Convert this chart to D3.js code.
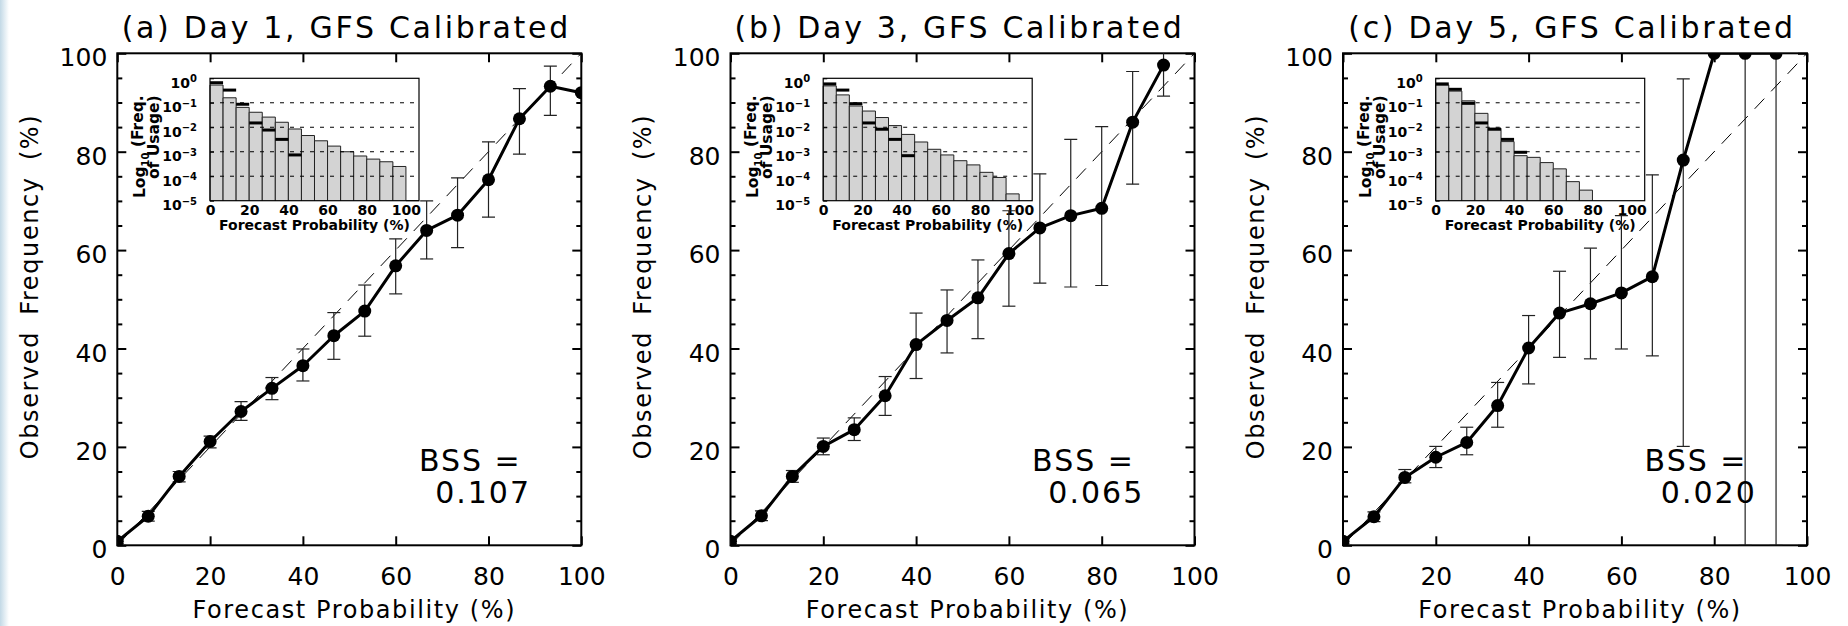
<!DOCTYPE html>
<html>
<head>
<meta charset="utf-8">
<script src="https://cdn.jsdelivr.net/npm/d3@7/dist/d3.min.js"></script>
<style>
	body { margin: 0; background: #fff; }
	svg { display: block; font-family: "DejaVu Sans", sans-serif; }
	.axis line { stroke: #000; stroke-width: 2; }
	.axis text { font-family: "DejaVu Sans", sans-serif; font-size: 25px; fill: #000; }
	.inset-axis line { stroke: #000; stroke-width: 1; }
	.inset-axis text { font-family: "DejaVu Sans", sans-serif; font-size: 14px; font-weight: bold; fill: #000; }
</style>
</head>
<body>
<div id="chart"></div>
<script>
// forecast probability bins (%), same for every panel
var probBins = [0, 6.67, 13.33, 20, 26.67, 33.33, 40, 46.67, 53.33, 60, 66.67, 73.33, 80, 86.67, 93.33, 100];
var axisTicks = [0, 20, 40, 60, 80, 100];
var minorTicks = [5, 10, 15, 25, 30, 35, 45, 50, 55, 65, 70, 75, 85, 90, 95];
var usageTicks = [1, 1e-1, 1e-2, 1e-3, 1e-4, 1e-5];
var usageExponents = ['0', '\u22121', '\u22122', '\u22123', '\u22124', '\u22125'];
var usageGrid = [1e-1, 1e-2, 1e-3, 1e-4];

var panelTitles = ['(a) Day 1, GFS Calibrated', '(b) Day 3, GFS Calibrated', '(c) Day 5, GFS Calibrated'];
var bssValues = ['0.107', '0.065', '0.020'];

// observed frequency (%) with error bar limits
var obsDay1 = [0.8, 5.9, 14.0, 21.1, 27.2, 31.9, 36.5, 42.6, 47.6, 56.8, 64.0, 67.1, 74.3, 86.7, 93.3, 92.0];
var loDay1 = [0.3, 4.9, 12.9, 19.8, 25.4, 29.6, 33.4, 37.8, 42.5, 51.1, 58.2, 60.5, 66.7, 79.5, 87.4, null];
var hiDay1 = [1.3, 6.9, 15.0, 22.2, 29.2, 34.1, 39.9, 47.3, 52.9, 62.3, 70.0, 74.7, 82.0, 92.8, 97.4, null];

var obsDay3 = [0.8, 6.0, 14.0, 20.1, 23.5, 30.4, 40.8, 45.7, 50.3, 59.3, 64.5, 67.0, 68.5, 86.0, 97.6];
var loDay3 = [0.3, 5.0, 12.8, 18.4, 21.3, 26.4, 33.9, 39.1, 42.0, 48.6, 53.3, 52.5, 52.8, 73.4, 91.3];
var hiDay3 = [1.3, 7.0, 15.2, 21.8, 25.9, 34.3, 47.2, 51.9, 58.0, 68.0, 75.5, 82.5, 85.1, 96.3, 103.9];

var obsDay5 = [0.8, 5.8, 13.8, 17.9, 20.9, 28.4, 40.1, 47.2, 49.1, 51.3, 54.6, 78.3, 100, 100, 100];
var loDay5 = [0.3, 4.8, 12.7, 15.8, 18.4, 24.0, 32.8, 38.2, 37.9, 39.9, 38.5, 20.1, null, 0, 0];
var hiDay5 = [1.3, 6.8, 15.4, 20.1, 24.0, 33.1, 46.7, 55.7, 60.4, 67.0, 75.3, 94.8, null, 100, 100];

// frequency of usage (grey bars) and the black marks drawn over them
var usageDay1 = [0.53, 0.16, 0.065, 0.041, 0.026, 0.016, 0.0085, 0.0046, 0.0028, 0.0017, 0.001, 0.00067, 0.0005, 0.00039, 0.00025, 1e-5];
var markDay1 = [0.66, 0.33, 0.087, 0.015, 0.0077, 0.0032, 0.00074];
var usageDay3 = [0.49, 0.21, 0.074, 0.046, 0.025, 0.0117, 0.0051, 0.0025, 0.00126, 0.00074, 0.00043, 0.00029, 0.000144, 0.000089, 0.000019];
var markDay3 = [0.59, 0.33, 0.092, 0.015, 0.0083, 0.0032, 0.00069];
var usageDay5 = [0.53, 0.30, 0.12, 0.037, 0.0091, 0.0026, 0.00069, 0.00059, 0.00036, 0.0002, 0.00006, 0.000027];
var markDay5 = [0.59, 0.355, 0.095, 0.015, 0.0083, 0.0032, 0.00095];

var panels = [
	{ obs: obsDay1, lo: loDay1, hi: hiDay1, usage: usageDay1, marks: markDay1 },
	{ obs: obsDay3, lo: loDay3, hi: hiDay3, usage: usageDay3, marks: markDay3 },
	{ obs: obsDay5, lo: loDay5, hi: hiDay5, usage: usageDay5, marks: markDay5 }
];

var width = 1848;
var height = 626;
var plotLeft = [117.3, 730.5, 1343];
var plotTop = 53.3;
var plotW = 464;
var plotH = 492;
var insetX = 92.7;
var insetY = 25;
var insetW = 209;
var insetH = 122.4;
var binW = 6.67;

var svg = d3.select('#chart')
	.append('svg')
	.attr('width', width)
	.attr('height', height);

// pale strip on the left edge
var grad = svg.append('defs').append('linearGradient').attr('id', 'edge');
grad.append('stop').attr('offset', '0%').attr('stop-color', '#c3d9e6');
grad.append('stop').attr('offset', '100%').attr('stop-color', '#ffffff');
svg.append('rect').attr('x', 0).attr('y', 0).attr('width', 9).attr('height', height).attr('fill', 'url(#edge)');

panels.forEach(function (p, i) {
	drawPanel(i, p);
});


function drawPanel(i, p) {
	var g = svg.append('g').attr('transform', 'translate(' + plotLeft[i] + ',' + plotTop + ')');

	var x = d3.scaleLinear().domain([0, 100]).range([0, plotW]);
	var y = d3.scaleLinear().domain([0, 100]).range([plotH, 0]);

	g.append('defs').append('clipPath').attr('id', 'clip' + i)
		.append('rect').attr('width', plotW).attr('height', plotH);

	// axes, ticks pointing inward
	g.append('g').attr('class', 'axis').attr('transform', 'translate(0,' + plotH + ')')
		.call(d3.axisBottom(x).tickValues(axisTicks).tickSizeInner(-9).tickSizeOuter(0).tickPadding(22));
	g.append('g').attr('class', 'axis')
		.call(d3.axisTop(x).tickValues(axisTicks).tickSizeInner(-9).tickSizeOuter(0).tickFormat(''));
	g.append('g').attr('class', 'axis')
		.call(d3.axisLeft(y).tickValues(axisTicks).tickSizeInner(-9).tickSizeOuter(0).tickPadding(10))
		.selectAll('text').attr('dy', '0.5em');
	g.append('g').attr('class', 'axis')
		.call(d3.axisLeft(y).tickValues(minorTicks).tickSizeInner(-5).tickSizeOuter(0).tickFormat(''));
	g.append('g').attr('class', 'axis').attr('transform', 'translate(' + plotW + ',0)')
		.call(d3.axisRight(y).tickValues(axisTicks).tickSizeInner(-9).tickSizeOuter(0).tickFormat(''));
	g.append('g').attr('class', 'axis').attr('transform', 'translate(' + plotW + ',0)')
		.call(d3.axisRight(y).tickValues(minorTicks).tickSizeInner(-5).tickSizeOuter(0).tickFormat(''));
	g.selectAll('.domain').remove();

	g.append('rect')
		.attr('width', plotW).attr('height', plotH)
		.attr('fill', 'none').attr('stroke', '#000').attr('stroke-width', 2);

	// perfect reliability
	g.append('line')
		.attr('x1', x(0)).attr('y1', y(0)).attr('x2', x(100)).attr('y2', y(100))
		.attr('stroke', '#000').attr('stroke-width', 1)
		.style('stroke-dasharray', ('14, 10'));

	drawInset(g, p);

	var pts = p.obs.map(function (v, k) {
		return { x: probBins[k], y: v, lo: p.lo[k], hi: p.hi[k] };
	});

	var data = g.append('g').attr('clip-path', 'url(#clip' + i + ')');

	var bars = data.selectAll('g.err').data(pts.filter(function (d) { return d.lo !== null; }))
		.join('g').attr('class', 'err')
		.attr('stroke', '#222').attr('stroke-width', 1.2);
	bars.append('line')
		.attr('x1', function (d) { return x(d.x); }).attr('x2', function (d) { return x(d.x); })
		.attr('y1', function (d) { return y(d.lo); }).attr('y2', function (d) { return y(d.hi); });
	bars.append('line')
		.attr('x1', function (d) { return x(d.x) - 6.5; }).attr('x2', function (d) { return x(d.x) + 6.5; })
		.attr('y1', function (d) { return y(d.lo); }).attr('y2', function (d) { return y(d.lo); });
	bars.append('line')
		.attr('x1', function (d) { return x(d.x) - 6.5; }).attr('x2', function (d) { return x(d.x) + 6.5; })
		.attr('y1', function (d) { return y(d.hi); }).attr('y2', function (d) { return y(d.hi); });

	data.append('path')
		.datum(pts)
		.attr('fill', 'none').attr('stroke', '#000').attr('stroke-width', 3)
		.attr('stroke-linejoin', 'round')
		.attr('d', d3.line().x(function (d) { return x(d.x); }).y(function (d) { return y(d.y); }));

	data.selectAll('circle').data(pts).join('circle')
		.attr('cx', function (d) { return x(d.x); })
		.attr('cy', function (d) { return y(d.y); })
		.attr('r', 6.5)
		.attr('fill', '#000');

	// text
	g.append('text')
		.attr('x', plotW / 2 - 3).attr('y', -15)
		.attr('text-anchor', 'middle')
		.style('font-size', '30px').style('letter-spacing', '2.7px')
		.text(panelTitles[i]);

	g.append('text')
		.attr('x', plotW / 2 + 5).attr('y', plotH + 73)
		.attr('text-anchor', 'middle')
		.style('font-size', '24px').style('letter-spacing', '1.6px')
		.text('Forecast Probability (%)');

	g.append('text')
		.attr('transform', 'translate(-79.5,' + (286.5 - plotTop) + ') rotate(-90)')
		.attr('text-anchor', 'middle')
		.style('font-size', '24px').style('letter-spacing', '1.6px').style('word-spacing', '7px')
		.text('Observed Frequency (%)');

	g.append('text')
		.attr('x', x(65)).attr('y', y(15.1))
		.style('font-size', '30px').style('letter-spacing', '2px')
		.text('BSS =');
	g.append('text')
		.attr('x', x(68.5)).attr('y', y(8.6))
		.style('font-size', '30px').style('letter-spacing', '2px')
		.text(bssValues[i]);
}


function drawInset(parent, p) {
	var ig = parent.append('g').attr('transform', 'translate(' + insetX + ',' + insetY + ')');

	var ix = d3.scaleLinear().domain([0, 106.67]).range([0, insetW]);
	var iy = d3.scaleLog().domain([1e-5, 1]).range([insetH, 0]);

	ig.append('rect')
		.attr('width', insetW).attr('height', insetH)
		.attr('fill', '#fff');

	ig.selectAll('path.bar').data(p.usage).join('path')
		.attr('class', 'bar')
		.attr('fill', '#d3d3d3').attr('stroke', '#222').attr('stroke-width', 1)
		.attr('d', function (d, k) {
			var x0 = ix(probBins[k]);
			var x1 = ix(probBins[k] + binW);
			return 'M' + x0 + ',' + iy(1e-5) + 'V' + iy(d) + 'H' + x1 + 'V' + iy(1e-5);
		});

	ig.selectAll('line.grid').data(usageGrid).join('line')
		.attr('class', 'grid')
		.attr('x1', 0).attr('x2', insetW)
		.attr('y1', function (d) { return iy(d); }).attr('y2', function (d) { return iy(d); })
		.attr('stroke', '#000').attr('stroke-width', 1)
		.style('stroke-dasharray', ('4, 6'));

	ig.selectAll('line.mark').data(p.marks).join('line')
		.attr('class', 'mark')
		.attr('x1', function (d, k) { return ix(probBins[k]); })
		.attr('x2', function (d, k) { return ix(probBins[k] + binW); })
		.attr('y1', function (d) { return iy(d); }).attr('y2', function (d) { return iy(d); })
		.attr('stroke', '#000').attr('stroke-width', 3);

	ig.append('rect')
		.attr('width', insetW).attr('height', insetH)
		.attr('fill', 'none').attr('stroke', '#000').attr('stroke-width', 1.2);

	var xa = ig.append('g').attr('class', 'inset-axis').attr('transform', 'translate(0,' + insetH + ')')
		.call(d3.axisBottom(ix).tickValues(axisTicks).tickSize(0).tickPadding(4));
	xa.select('.domain').remove();

	var ya = ig.append('g').attr('class', 'inset-axis')
		.call(d3.axisLeft(iy).tickValues(usageTicks).tickSizeInner(-4).tickSizeOuter(0).tickPadding(13)
			.tickFormat(function () { return '10'; }));
	ya.select('.domain').remove();
	ya.selectAll('.tick text').attr('dy', '0.65em').each(function (d, k) {
		d3.select(this).append('tspan')
			.attr('dy', '-0.55em')
			.style('font-size', '10px')
			.text(usageExponents[k]);
	});

	ig.append('text')
		.attr('x', insetW / 2).attr('y', insetH + 29)
		.attr('text-anchor', 'middle')
		.style('font-size', '14px').style('font-weight', 'bold')
		.text('Forecast Probability (%)');

	// two-line y title, both lines ending near the top of the box
	var t1 = ig.append('text')
		.attr('transform', 'translate(-65,17) rotate(-90)')
		.attr('text-anchor', 'end')
		.style('font-size', '15.5px').style('font-weight', 'bold');
	t1.append('tspan').text('Log');
	t1.append('tspan').attr('dy', '0.35em').style('font-size', '10px').text('10');
	t1.append('tspan').attr('dy', '-0.35em').text(' (Freq.');

	ig.append('text')
		.attr('transform', 'translate(-51,17) rotate(-90)')
		.attr('text-anchor', 'end')
		.style('font-size', '15.5px').style('font-weight', 'bold')
		.text('of Usage)');
}
</script>
</body>
</html>
